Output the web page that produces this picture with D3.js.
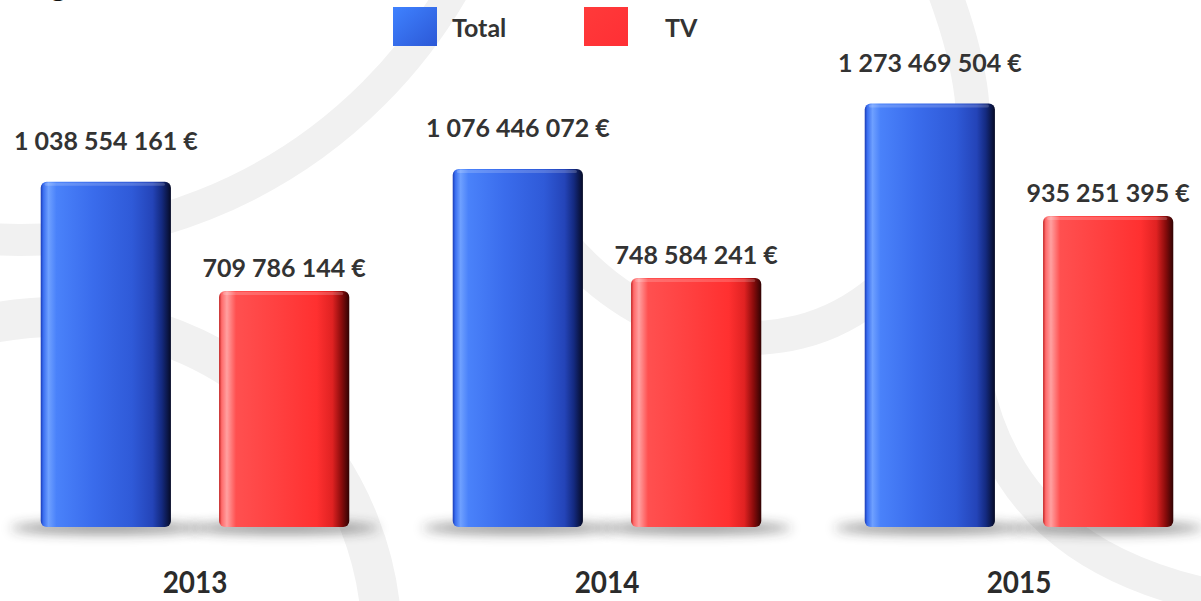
<!DOCTYPE html>
<html>
<head>
<meta charset="utf-8">
<script src="https://cdn.jsdelivr.net/npm/d3@7"></script>
<style>
  html, body { margin: 0; padding: 0; background: #fff; }
  svg { display: block; }
  text { font-family: Lato, 'Open Sans', sans-serif; }
</style>
</head>
<body>
<div id="chart"></div>
<script>
/* global d3 */
(function () {
  'use strict'

  // Data
  var years = ['2013', '2014', '2015']
  var series = ['Total', 'TV']
  var totalValues = [1038554161, 1076446072, 1273469504]
  var tvValues = [709786144, 748584241, 935251395]

  // Dimensions and stuff
  var w = 1201
  var h = 601
  var baseY = 527

  var rows = years.map(function (y, i) {
    return { year: y, values: [totalValues[i], tvValues[i]] }
  })

  var s = d3.select('#chart').append('svg')
    .attr('width', w)
    .attr('height', h)

  var defs = s.append('defs')

  // Glossy gradients for the bars
  function glossy (id, stops) {
    var g = defs.append('linearGradient')
      .attr('id', id)
      .attr('x1', '0%').attr('x2', '100%')
      .attr('y1', '0%').attr('y2', '0%')
    stops.forEach(function (st) {
      g.append('stop').attr('offset', st[0]).attr('stop-color', st[1])
    })
  }

  glossy('grad-Total', [
    ['0%', '#1a3bb5'], ['2%', '#3a6ef0'], ['6%', '#6ea0ff'], ['12%', '#4a82fa'],
    ['40%', '#3a6cec'], ['70%', '#2f5ad8'], ['86%', '#2444b8'], ['93%', '#142a80'],
    ['98%', '#0a1440'], ['100%', '#050a25']
  ])
  glossy('grad-TV', [
    ['0%', '#c02020'], ['2%', '#ff6a6a'], ['6%', '#ffa0a0'], ['13%', '#ff5050'],
    ['45%', '#ff4040'], ['75%', '#ff3030'], ['87%', '#e02222'], ['94%', '#8a0c0c'],
    ['100%', '#300303']
  ])

  var lg = defs.append('linearGradient').attr('id', 'leg-Total')
    .attr('x1', '0%').attr('x2', '100%').attr('y1', '0%').attr('y2', '100%')
  lg.append('stop').attr('offset', '0%').attr('stop-color', '#3f82ff')
  lg.append('stop').attr('offset', '100%').attr('stop-color', '#2c58d6')
  var lr = defs.append('linearGradient').attr('id', 'leg-TV')
    .attr('x1', '0%').attr('x2', '100%').attr('y1', '0%').attr('y2', '100%')
  lr.append('stop').attr('offset', '0%').attr('stop-color', '#ff3a3a')
  lr.append('stop').attr('offset', '100%').attr('stop-color', '#ff2f35')

  defs.append('filter').attr('id', 'blur')
    .attr('x', '-50%').attr('y', '-200%').attr('width', '200%').attr('height', '500%')
    .append('feGaussianBlur').attr('stdDeviation', 6)

  // Background swooshes
  var bg = s.append('g').attr('class', 'bg')
    .attr('fill', 'none').attr('stroke', '#f1f1f1')
  bg.append('circle').attr('cx', 20).attr('cy', -260).attr('r', 500)
    .attr('stroke-width', 32)
  bg.append('circle').attr('cx', 56).attr('cy', 643).attr('r', 326)
    .attr('stroke-width', 40)
  bg.append('path').attr('stroke-width', 34)
    .attr('d', 'M560,240 C640,340 780,375 880,290 C960,225 1010,160 940,-20')
  bg.append('path').attr('stroke-width', 34)
    .attr('d', 'M975,380 C1000,500 1080,570 1220,598')

  // cut-off title above the picture
  s.append('text').attr('x', 50).attr('y', -4)
    .style('font-size', '32px').style('font-weight', 700)
    .attr('fill', '#111').text('g')

  // Scales
  var x0 = d3.scaleBand().domain(years).range([-11, 1225])
  var x1 = d3.scaleBand().domain(series).range([0, x0.bandwidth()])
    .paddingInner(0.27).paddingOuter(0.29)
  var y = d3.scaleLinear().domain([0, 1e9]).range([baseY, baseY - 332.5])

  var fmt = function (v) { return d3.format(',')(v).replace(/,/g, ' ') + ' €' }
  var labelGap = { Total: 32, TV: 14 }

  var groups = s.append('g').selectAll('g.year')
    .data(rows)
    .enter().append('g')
    .attr('class', 'year')
    .attr('transform', function (d) { return 'translate(' + x0(d.year) + ',0)' })

  var bars = groups.selectAll('g.bar')
    .data(function (d) {
      return series.map(function (k, i) { return { key: k, value: d.values[i] } })
    })
    .enter().append('g').attr('class', 'bar')

  // shadows
  bars.append('ellipse')
    .attr('cx', function (d) { return x1(d.key) + x1.bandwidth() / 2 })
    .attr('cy', baseY + 1)
    .attr('rx', x1.bandwidth() / 2 + 30)
    .attr('ry', 6)
    .attr('fill', '#2a2a2a')
    .attr('opacity', 0.5)
    .attr('filter', 'url(#blur)')

  bars.append('rect')
    .attr('x', function (d) { return x1(d.key) })
    .attr('y', function (d) { return y(d.value) })
    .attr('width', x1.bandwidth())
    .attr('height', function (d) { return baseY - y(d.value) })
    .attr('rx', 6)
    .attr('fill', function (d) { return 'url(#grad-' + d.key + ')' })

  // top rim highlight
  bars.append('rect')
    .attr('x', function (d) { return x1(d.key) + 4 })
    .attr('y', function (d) { return y(d.value) + 1 })
    .attr('width', x1.bandwidth() - 10)
    .attr('height', 3)
    .attr('rx', 1.5)
    .attr('fill', '#fff')
    .attr('opacity', 0.18)

  bars.append('text')
    .attr('x', function (d) { return x1(d.key) + x1.bandwidth() / 2 })
    .attr('y', function (d) { return y(d.value) - labelGap[d.key] })
    .attr('text-anchor', 'middle')
    .attr('fill', '#333')
    .style('font-size', '25px')
    .style('font-weight', 700)
    .text(function (d) { return fmt(d.value) })

  // Year labels
  groups.append('text')
    .attr('transform', 'translate(' + (x0.bandwidth() / 2) + ',593) scale(0.9,1)')
    .attr('text-anchor', 'middle')
    .attr('fill', '#2b2b2b')
    .style('font-size', '31px')
    .style('font-weight', 700)
    .text(function (d) { return d.year })

  // Legend
  var legendX = [393, 584]
  var legendTextX = [452, 665]
  var legend = s.append('g').attr('class', 'legend')
  legend.selectAll('rect')
    .data(series)
    .enter().append('rect')
    .attr('x', function (d, i) { return legendX[i] })
    .attr('y', 7)
    .attr('width', 44)
    .attr('height', 39)
    .attr('fill', function (d) { return 'url(#leg-' + d + ')' })
  legend.selectAll('text')
    .data(series)
    .enter().append('text')
    .attr('x', function (d, i) { return legendTextX[i] })
    .attr('y', 37)
    .attr('fill', '#333')
    .style('font-size', '25px')
    .style('font-weight', 700)
    .text(function (d) { return d })
}())
</script>
</body>
</html>
